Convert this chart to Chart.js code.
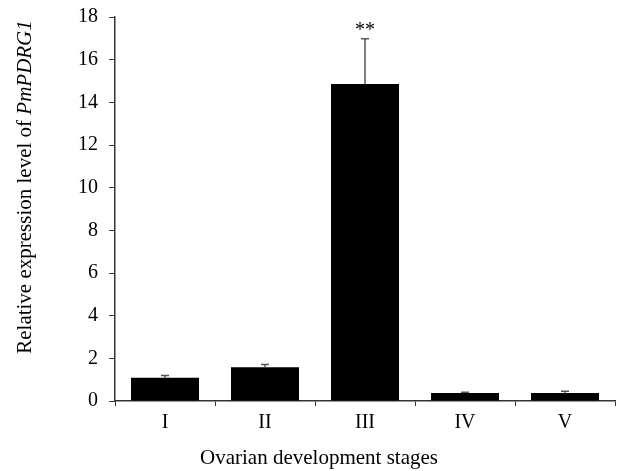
<!DOCTYPE html>
<html>
<head>
<meta charset="utf-8">
<script src="https://cdn.jsdelivr.net/npm/chart.js@4.4.0/dist/chart.umd.min.js"></script>
<style>
html,body{margin:0;padding:0;background:#fff;}
#wrap{width:619px;height:471px;}
</style>
</head>
<body>
<div id="wrap"><canvas id="c" width="619" height="471"></canvas></div>
<script>
const stages = ["I", "II", "III", "IV", "V"];
const expression = [1.09, 1.58, 14.86, 0.37, 0.38];
const errorUp = [0.11, 0.13, 2.12, 0.04, 0.08];
const significance = ["", "", "**", "", ""];
const yTicks = [0, 2, 4, 6, 8, 10, 12, 14, 16, 18];
const yTitleParts = [["Relative expression level of ", "normal"], ["PmPDRG1", "italic"]];
const xTitle = "Ovarian development stages";

const FONT = "'Liberation Serif', 'Times New Roman', serif";
const AXIS = "#333";

const extras = {
  id: 'extras',
  afterDatasetsDraw(chart) {
    const ctx = chart.ctx;
    const meta = chart.getDatasetMeta(0);
    const y = chart.scales.y;
    ctx.save();
    ctx.strokeStyle = '#555';
    ctx.lineWidth = 1.5;
    meta.data.forEach((bar, i) => {
      const x = bar.x;
      const top = y.getPixelForValue(expression[i]);
      const et = y.getPixelForValue(expression[i] + errorUp[i]);
      ctx.beginPath();
      ctx.moveTo(x, top);
      ctx.lineTo(x, et);
      ctx.moveTo(x - 4, et);
      ctx.lineTo(x + 4, et);
      ctx.stroke();
      if (significance[i]) {
        ctx.fillStyle = '#000';
        ctx.font = "20px " + FONT;
        ctx.textAlign = 'center';
        ctx.textBaseline = 'alphabetic';
        ctx.fillText(significance[i], x, et - 3);
      }
    });
    ctx.restore();
  },
  afterDraw(chart) {
    const ctx = chart.ctx;
    ctx.save();
    ctx.fillStyle = '#000';
    ctx.font = "21px " + FONT;
    ctx.textAlign = 'center';
    ctx.textBaseline = 'middle';
    ctx.fillText(xTitle, 319, 458);
    ctx.translate(31, 187);
    ctx.rotate(-Math.PI / 2);
    ctx.textBaseline = 'alphabetic';
    let total = 0;
    const widths = yTitleParts.map(p => {
      ctx.font = (p[1] === 'italic' ? 'italic ' : '') + "21px " + FONT;
      const w = ctx.measureText(p[0]).width;
      total += w;
      return w;
    });
    let x = -total / 2;
    yTitleParts.forEach((p, i) => {
      ctx.font = (p[1] === 'italic' ? 'italic ' : '') + "21px " + FONT;
      ctx.textAlign = 'left';
      ctx.fillText(p[0], x, 0);
      x += widths[i];
    });
    ctx.restore();
  }
};

new Chart(document.getElementById('c'), {
  type: 'bar',
  data: {
    labels: stages,
    datasets: [{
      data: expression,
      backgroundColor: '#000',
      borderWidth: 0,
      barPercentage: 0.68,
      categoryPercentage: 1.0
    }]
  },
  options: {
    responsive: false,
    animation: false,
    devicePixelRatio: 1,
    layout: { padding: { left: 0, right: 4, top: 17, bottom: 0 } },
    plugins: { legend: { display: false }, tooltip: { enabled: false } },
    scales: {
      x: {
        offset: true,
        afterFit(axis) { axis.height = 70; axis.paddingLeft = 0; axis.paddingRight = 0; },
        grid: { offset: true, drawOnChartArea: false, drawTicks: true, tickLength: 5, color: AXIS, lineWidth: 1 },
        border: { display: true, color: AXIS, width: 1.5 },
        ticks: { color: '#000', font: { family: FONT, size: 20 }, padding: 5 }
      },
      y: {
        min: 0, max: 18,
        afterFit(axis) { axis.width = 115; axis.paddingTop = 0; axis.paddingBottom = 0; },
        afterBuildTicks(axis) { axis.ticks = yTicks.map(v => ({ value: v })); },
        grid: { drawOnChartArea: false, drawTicks: true, tickLength: 6, color: AXIS, lineWidth: 1 },
        border: { display: true, color: AXIS, width: 1.5 },
        ticks: { color: '#000', font: { family: FONT, size: 20 }, padding: 11 }
      }
    }
  },
  plugins: [extras]
});
</script>
</body>
</html>
